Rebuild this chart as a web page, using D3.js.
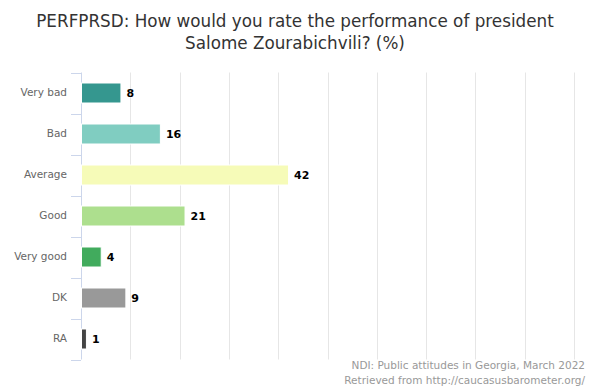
<!DOCTYPE html>
<html><head><meta charset="utf-8">
<script src="https://cdn.jsdelivr.net/npm/d3@7"></script>
<style>
html,body{margin:0;padding:0;background:#fff;}
svg{display:block;font-family:"DejaVu Sans",sans-serif;}
</style></head>
<body>
<svg id="chart" width="595" height="391"></svg>
<script>
const categories = ["Very bad","Bad","Average","Good","Very good","DK","RA"];
const values = [8,16,42,21,4,9,1];
const colors = ["#35978f","#80cdc1","#f6fbb8","#addf8e","#41ab5d","#999999","#444444"];
const titleLines = ["PERFPRSD: How would you rate the performance of president","Salome Zourabichvili? (%)"];
const creditLines = ["NDI: Public attitudes in Georgia, March 2022","Retrieved from http://caucasusbarometer.org/"];
const xTicks = [0,10,20,30,40,50,60,70,80,90,100];

(function(){
const svg = d3.select("#chart");
const W = 595, H = 391;
const pLeft = 81, pRight = 574, pTop = 72.5, pBottom = 359.5;

const x = d3.scaleLinear().domain([0,100]).range([pLeft, pRight]);
const y = d3.scaleBand().domain(categories).range([pTop, pBottom]).paddingInner(0).paddingOuter(0);

// title
svg.append("g").selectAll("text").data(titleLines).join("text")
  .attr("x", 295).attr("y", (d,i)=>27 + i*22)
  .attr("text-anchor","middle").attr("fill","#333333")
  .style("font-size","16.8px").text(d=>d);

// gridlines
svg.append("g").selectAll("line").data(xTicks.slice(1)).join("line")
  .attr("x1", d=>Math.round(x(d))+0.5).attr("x2", d=>Math.round(x(d))+0.5)
  .attr("y1", pTop).attr("y2", pBottom)
  .attr("stroke","#e6e6e6").attr("stroke-width",1);

// y axis
const yAxis = d3.axisLeft(y).tickSize(0).tickPadding(14);
const gy = svg.append("g").attr("transform",`translate(${pLeft},0)`).call(yAxis);
gy.select(".domain").remove();
gy.selectAll("text").attr("fill","#666666").style("font-size","10.5px").style("font-family","DejaVu Sans, sans-serif");
const boundaries = categories.map(c=>y(c)).concat([pBottom]);
svg.append("g").selectAll("line").data(boundaries).join("line")
  .attr("x1", pLeft-10).attr("x2", pLeft)
  .attr("y1", d=>Math.round(d)+0.5).attr("y2", d=>Math.round(d)+0.5)
  .attr("stroke","#ccd6eb").attr("stroke-width",1);
svg.append("line").attr("x1",pLeft+0.5).attr("x2",pLeft+0.5).attr("y1",pTop).attr("y2",pBottom)
  .attr("stroke","#ccd6eb").attr("stroke-width",1);

// bars
const barH = 20;
const data = categories.map((c,i)=>({c, v: values[i], col: colors[i]}));
svg.append("g").selectAll("rect").data(data).join("rect")
  .attr("x", x(0)+0.5)
  .attr("y", d=>y(d.c) + y.bandwidth()/2 - barH/2)
  .attr("width", d=>x(d.v)-x(0))
  .attr("height", barH)
  .attr("fill", d=>d.col)
  .attr("stroke","#ffffff").attr("stroke-width",1);

// data labels
svg.append("g").selectAll("text").data(data).join("text")
  .attr("x", d=>x(d.v)+6)
  .attr("y", d=>y(d.c)+y.bandwidth()/2 + 4)
  .attr("fill","#000000").style("font-size","11px").style("font-weight","bold")
  .text(d=>d.v);

// credits
svg.append("g").selectAll("text").data(creditLines).join("text")
  .attr("x", 585).attr("y",(d,i)=>369 + i*14.5)
  .attr("text-anchor","end").attr("fill","#999999")
  .style("font-size","10.5px").text(d=>d);
})();
</script>
</body></html>
